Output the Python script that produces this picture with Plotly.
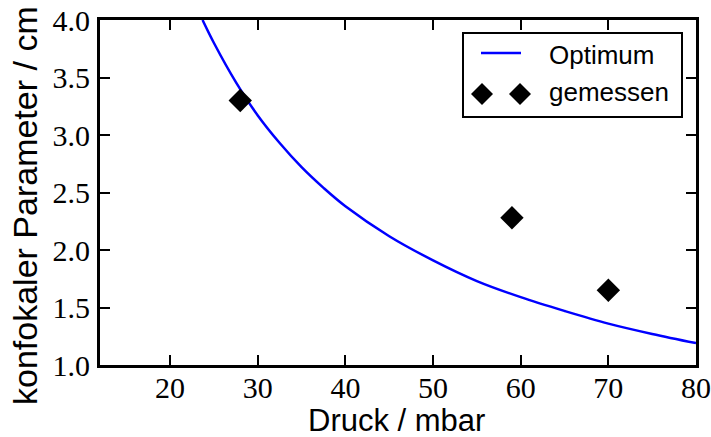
import plotly.graph_objects as go

# Optimum curve
opt_x = [23.7, 25, 27.5, 30, 32.5, 35, 37.5, 40, 45, 50, 55, 60, 65, 70, 75, 80]
opt_y = [4.00, 3.80, 3.46, 3.17, 2.93, 2.72, 2.54, 2.38, 2.12, 1.91, 1.73, 1.59, 1.47, 1.36, 1.27, 1.19]

# measured points
mes_x = [28, 59, 70]
mes_y = [3.30, 2.28, 1.65]

x_ticks = [20, 30, 40, 50, 60, 70, 80]
y_ticks = [1.0, 1.5, 2.0, 2.5, 3.0, 3.5, 4.0]

W, H = 711, 437
ML, MR, MT, MB = 100, 15, 20, 72
PW, PH = W - ML - MR, H - MT - MB

def px(x):
    return (x - ML) / PW

def py(y):
    return (H - MB - y) / PH

fig = go.Figure()
fig.add_trace(go.Scatter(x=opt_x, y=opt_y, mode="lines", line=dict(color="#0000ff", width=2.5, shape="spline"),
                         name="Optimum", showlegend=False))
fig.add_trace(go.Scatter(x=mes_x, y=mes_y, mode="markers",
                         marker=dict(symbol="diamond", size=18, color="black"),
                         name="gemessen", showlegend=False))

tickfont = dict(family="'Liberation Serif', 'DejaVu Serif', serif", size=30, color="black")
fig.update_xaxes(range=[12, 80], tickvals=x_ticks, ticktext=[str(v) for v in x_ticks],
                 ticks="inside", ticklen=10, tickwidth=1.5, tickcolor="black",
                 showline=True, linewidth=3, linecolor="black", mirror="ticks",
                 showgrid=False, zeroline=False, tickfont=tickfont, ticklabelstandoff=-6)
fig.update_yaxes(range=[1.0, 4.0], tickvals=y_ticks, ticktext=[f"{v:.1f}" for v in y_ticks],
                 ticks="inside", ticklen=10, tickwidth=1.5, tickcolor="black",
                 showline=True, linewidth=3, linecolor="black", mirror="ticks",
                 showgrid=False, zeroline=False, tickfont=tickfont, ticklabelstandoff=1)

sans = "Liberation Sans"
# legend (manual, to show two diamonds like the original)
shapes = [
    dict(type="rect", xref="paper", yref="paper", x0=px(463), x1=px(682), y0=py(117), y1=py(33),
         line=dict(color="black", width=2), fillcolor="white", layer="above"),
    dict(type="line", xref="paper", yref="paper", x0=px(481), x1=px(521), y0=py(53), y1=py(53),
         line=dict(color="#0000ff", width=2.5), layer="above"),
]
for cx in (482, 520):
    cy = 94
    r = 11
    path = (f"M {px(cx - r)} {py(cy)} L {px(cx)} {py(cy - r)} L {px(cx + r)} {py(cy)} "
            f"L {px(cx)} {py(cy + r)} Z")
    shapes.append(dict(type="path", xref="paper", yref="paper", path=path,
                       fillcolor="black", line=dict(color="black", width=0), layer="above"))

annotations = [
    dict(text="Optimum", xref="paper", yref="paper", x=px(547), y=py(55), xanchor="left", yanchor="middle",
         showarrow=False, font=dict(family=sans, size=26, color="black")),
    dict(text="gemessen", xref="paper", yref="paper", x=px(547), y=py(92), xanchor="left", yanchor="middle",
         showarrow=False, font=dict(family=sans, size=26, color="black")),
    dict(text="Druck / mbar", xref="paper", yref="paper", x=px(396), y=py(420), xanchor="center", yanchor="middle",
         showarrow=False, font=dict(family=sans, size=31, color="black")),
    dict(text="konfokaler Parameter / cm", xref="paper", yref="paper", x=px(25), y=py(206), xanchor="center",
         yanchor="middle", textangle=-90, showarrow=False, font=dict(family=sans, size=34, color="black")),
]

fig.update_layout(width=W, height=H, margin=dict(l=ML, r=MR, t=MT, b=MB, autoexpand=False),
                  paper_bgcolor="white", plot_bgcolor="white", showlegend=False,
                  shapes=shapes, annotations=annotations)

fig.write_html("out.html")
